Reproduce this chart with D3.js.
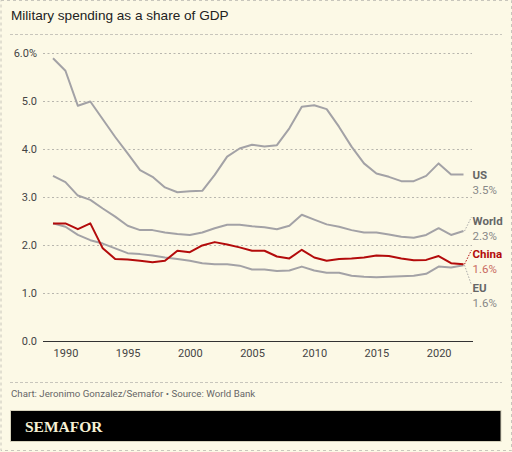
<!DOCTYPE html>
<html>
<head>
  <script src="https://cdnjs.cloudflare.com/ajax/libs/d3/7.8.5/d3.min.js"></script>
  <style>
    body { margin: 0; background: #fcf9e6; }
    svg { display: block; }
    .tick-label { font-family: Roboto, "Noto Sans", sans-serif; font-size: 11px; fill: #444; }
    .series-name { font-family: Roboto, sans-serif; font-size: 11.5px; font-weight: bold; }
    .series-value { font-family: Roboto, sans-serif; font-size: 11.5px; }
  </style>
</head>
<body>
  <div id="chart"></div>
  <script>
    // Data (percent of GDP)
    const years = d3.range(1989, 2023);
    const us = [5.89, 5.63, 4.90, 4.99, 4.62, 4.25, 3.91, 3.56, 3.42, 3.20, 3.10, 3.12,
                3.13, 3.46, 3.84, 4.01, 4.09, 4.05, 4.08, 4.43, 4.88, 4.91, 4.83, 4.46,
                4.05, 3.70, 3.49, 3.42, 3.33, 3.33, 3.44, 3.70, 3.47, 3.47];
    const world = [3.44, 3.31, 3.03, 2.94, 2.76, 2.59, 2.40, 2.31, 2.31, 2.26, 2.23, 2.21,
                   2.26, 2.35, 2.42, 2.42, 2.39, 2.37, 2.33, 2.40, 2.63, 2.53, 2.43, 2.38,
                   2.31, 2.26, 2.26, 2.22, 2.17, 2.15, 2.21, 2.35, 2.21, 2.29];
    const china = [2.45, 2.45, 2.33, 2.45, 1.93, 1.71, 1.70, 1.67, 1.64, 1.67, 1.88, 1.85,
                   1.99, 2.06, 2.01, 1.95, 1.88, 1.88, 1.76, 1.72, 1.90, 1.74, 1.67, 1.71,
                   1.72, 1.74, 1.78, 1.77, 1.72, 1.68, 1.69, 1.77, 1.62, 1.60];
    const eu = [2.45, 2.38, 2.21, 2.10, 2.03, 1.93, 1.83, 1.81, 1.78, 1.74, 1.71, 1.67,
                1.62, 1.60, 1.60, 1.57, 1.49, 1.49, 1.46, 1.47, 1.55, 1.47, 1.42, 1.42,
                1.36, 1.34, 1.33, 1.34, 1.35, 1.36, 1.40, 1.55, 1.53, 1.58];

    const seriesNames = ["US", "World", "China", "EU"];
    const seriesValues = [us, world, china, eu];
    const endLabels = ["3.5%", "2.3%", "1.6%", "1.6%"];

    const yTicks = [0, 1, 2, 3, 4, 5, 6];
    const yTickLabels = ["0.0", "1.0", "2.0", "3.0", "4.0", "5.0", "6.0%"];
    const xTicks = [1990, 1995, 2000, 2005, 2010, 2015, 2020];

    // Layout
    const W = 512, H = 452;
    const grey = "#a3a2a6", red = "#b30b0b";
    const style = {
      US:    { color: grey, name: "#666", value: "#888", labelY: 179, leader: false },
      World: { color: grey, name: "#666", value: "#888", labelY: 225, leader: true },
      China: { color: red,  name: red,    value: "#c96a62", labelY: 258, leader: true },
      EU:    { color: grey, name: "#666", value: "#888", labelY: 292, leader: true }
    };

    const svg = d3.select("#chart").append("svg")
      .attr("width", W)
      .attr("height", H);

    svg.append("rect")
      .attr("width", W).attr("height", H)
      .attr("fill", "#fcf9e6");

    // Dashed frame
    svg.append("rect")
      .attr("x", 1).attr("y", 0.5)
      .attr("width", W - 1.5).attr("height", H - 2)
      .attr("fill", "none")
      .attr("stroke", "#c8c6bc")
      .attr("stroke-dasharray", "3,3");

    // Title
    svg.append("text")
      .attr("x", 11).attr("y", 20)
      .style("font-family", "'Liberation Sans', Arial, sans-serif")
      .style("font-size", "13.6px")
      .attr("fill", "#222")
      .text("Military spending as a share of GDP");

    svg.append("line")
      .attr("x1", 10).attr("x2", 502)
      .attr("y1", 34.5).attr("y2", 34.5)
      .attr("stroke", "#c8c6bc")
      .attr("stroke-dasharray", "3,2");

    // Scales
    const x = d3.scaleLinear().domain([1989, 2022]).range([53, 463.5]);
    const y = d3.scaleLinear().domain([0, 6]).range([341, 53]);
    const gridX1 = 43, gridX2 = 472;

    // Y gridlines + labels
    const yAxis = svg.append("g")
      .attr("transform", `translate(${gridX1},0)`)
      .call(d3.axisLeft(y).tickValues(yTicks).tickSize(0).tickPadding(6)
        .tickFormat((d, i) => yTickLabels[i]));
    yAxis.select(".domain").remove();
    yAxis.selectAll("text").attr("class", "tick-label").attr("font-family", null).attr("font-size", null);
    yAxis.selectAll(".tick").filter(d => d !== 0).append("line")
      .attr("x1", 0).attr("x2", gridX2 - gridX1)
      .attr("stroke", "#b8b6ae")
      .attr("stroke-dasharray", "2,2.5");
    yAxis.selectAll(".tick").filter(d => d === 0).append("line")
      .attr("x1", 0).attr("x2", gridX2 - gridX1 + 1)
      .attr("stroke", "#333")
      .attr("stroke-width", 1.2);

    // X axis labels
    const xAxis = svg.append("g")
      .attr("transform", `translate(0,${y(0)})`)
      .call(d3.axisBottom(x).tickValues(xTicks).tickSize(0).tickPadding(8).tickFormat(d3.format("d")));
    xAxis.select(".domain").remove();
    xAxis.selectAll("text").attr("class", "tick-label").attr("font-family", null).attr("font-size", null);

    // Lines (grey first, China on top)
    const line = d3.line()
      .x((d, i) => x(years[i]))
      .y(d => y(d));

    const drawOrder = [0, 1, 3, 2];
    drawOrder.forEach(k => {
      svg.append("path")
        .datum(seriesValues[k])
        .attr("fill", "none")
        .attr("stroke", style[seriesNames[k]].color)
        .attr("stroke-width", 2)
        .attr("stroke-linejoin", "round")
        .attr("d", line);
    });

    // End labels with dotted leaders
    const labelX = 472.5;
    seriesNames.forEach((name, k) => {
      const s = style[name];
      const vals = seriesValues[k];
      const endY = y(vals[vals.length - 1]);
      if (s.leader) {
        svg.append("line")
          .attr("x1", x(2022) + 1).attr("y1", endY)
          .attr("x2", labelX - 1).attr("y2", s.labelY < endY ? s.labelY - 8 : s.labelY - 7)
          .attr("stroke", s.color === red ? red : "#aaa")
          .attr("stroke-width", 1)
          .attr("stroke-dasharray", "1.5,1.5");
      }
      svg.append("text")
        .attr("class", "series-name")
        .attr("x", labelX).attr("y", s.labelY)
        .attr("fill", s.name)
        .text(name);
      svg.append("text")
        .attr("class", "series-value")
        .attr("x", labelX).attr("y", s.labelY + 14.5)
        .attr("fill", s.value)
        .text(endLabels[k]);
    });

    // Footer
    svg.append("line")
      .attr("x1", 10).attr("x2", 502)
      .attr("y1", 382.5).attr("y2", 382.5)
      .attr("stroke", "#c8c6bc")
      .attr("stroke-dasharray", "3,2");

    svg.append("text")
      .attr("x", 11).attr("y", 397)
      .style("font-family", "Roboto, sans-serif")
      .style("font-size", "9.7px")
      .attr("fill", "#666")
      .text("Chart: Jeronimo Gonzalez/Semafor \u2022 Source: World Bank");

    svg.append("rect")
      .attr("x", 10.5).attr("y", 410.5)
      .attr("width", 490.5).attr("height", 31)
      .attr("fill", "#000")
      .attr("stroke", "#d6d2bc");

    svg.append("text")
      .attr("x", 25).attr("y", 432)
      .style("font-family", "'Liberation Serif', serif")
      .style("font-size", "15.5px")
      .style("font-weight", "bold")
      .attr("fill", "#f6f0d4")
      .text("SEMAFOR");
  </script>
</body>
</html>
